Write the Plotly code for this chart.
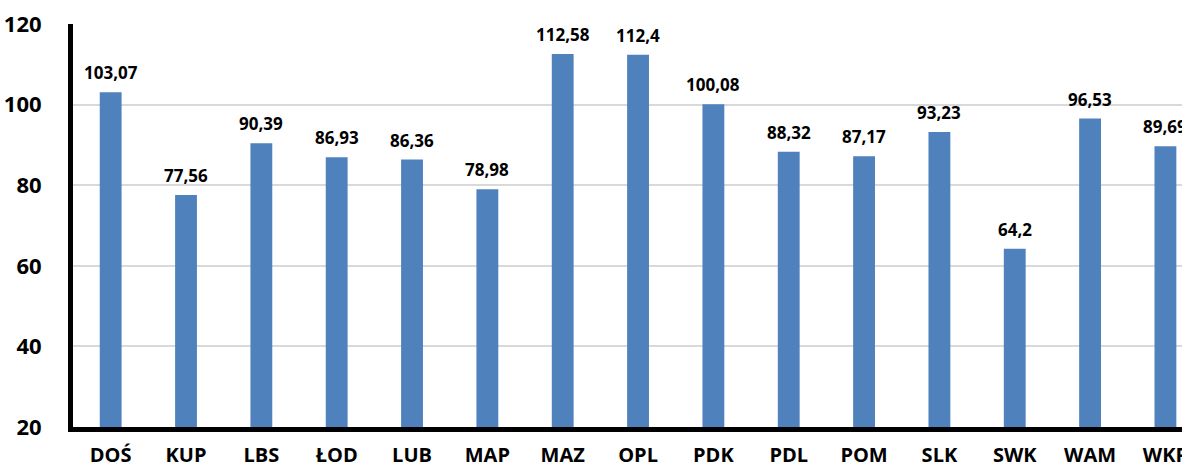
import plotly.graph_objects as go

categories = ["DOŚ", "KUP", "LBS", "ŁOD", "LUB", "MAP", "MAZ", "OPL", "PDK", "PDL", "POM", "SLK", "SWK", "WAM", "WKP"]
values = [103.07, 77.56, 90.39, 86.93, 86.36, 78.98, 112.58, 112.4, 100.08, 88.32, 87.17, 93.23, 64.2, 96.53, 89.69]
y_ticks = [20, 40, 60, 80, 100, 120]
base_value = 20

labels = [str(v).replace(".", ",") for v in values]

fig = go.Figure()
fig.add_trace(go.Bar(
    x=list(range(len(categories))), y=[v - base_value for v in values],
    base=base_value,
    marker=dict(color="#4F81BD", line=dict(width=0)),
))

for i, (v, t) in enumerate(zip(values, labels)):
    fig.add_annotation(x=i, y=v, text="<b>%s</b>" % t, showarrow=False,
                       yanchor="bottom", yshift=6,
                       font=dict(family="Open Sans", size=17, color="#000000"))

fig.update_layout(
    width=1182, height=469,
    margin=dict(l=73, r=0, t=24, b=42, autoexpand=False),
    paper_bgcolor="white", plot_bgcolor="white",
    bargap=0.71,
    showlegend=False,
    font=dict(family="Open Sans", color="#000000"),
)
fig.update_xaxes(
    range=[-0.5, 14.22], automargin=False,
    tickmode="array", tickvals=list(range(len(categories))),
    ticktext=["<b>%s</b>" % c for c in categories],
    tickfont=dict(family="Open Sans", size=20, color="#000000"),
    showgrid=False, showline=True, linecolor="#000000", linewidth=5,
    ticks="", ticklabelstandoff=6, zeroline=False,
    ticklabeloverflow="allow",
)
fig.update_yaxes(
    range=[20, 120], automargin=False, tickmode="array", tickvals=y_ticks,
    ticktext=["<b>%d</b>" % t for t in y_ticks],
    tickfont=dict(family="Open Sans", size=22, color="#000000"),
    showgrid=True, gridcolor="#D9D9D9", gridwidth=1.5,
    showline=True, linecolor="#000000", linewidth=5,
    ticks="", ticklabelstandoff=22, zeroline=False,
)

fig.write_html("out.html", config={"displayModeBar": False},
               post_script="document.body.style.margin='0';document.body.style.overflow='hidden';")
